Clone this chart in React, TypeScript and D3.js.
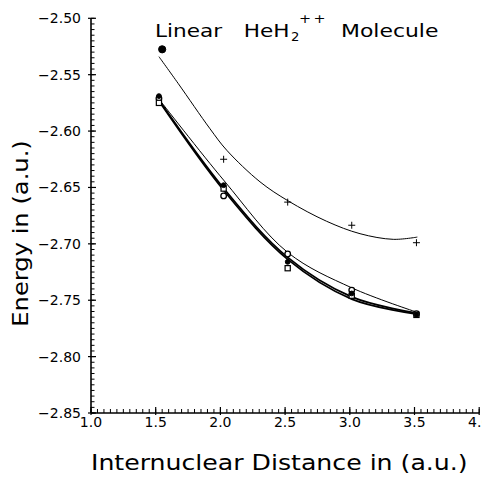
import * as d3 from "d3";

const W = 482;
const H = 477;

// upper curve, "+" markers and the big dot at the start
const plusX = [2.025, 2.52, 3.015, 3.515];
const plusY = [-2.625, -2.663, -2.6835, -2.699];
const topDotX = [1.55];
const topDotY = [-2.5275];
const topFitX = [1.525, 1.675, 1.92, 2.049, 2.306, 2.525, 2.821, 3.079, 3.336, 3.522];
const topFitY = [-2.534, -2.558, -2.598, -2.617, -2.645, -2.662, -2.68, -2.691, -2.696, -2.694];

// lower bundle of three curves
const lowFitX = [1.525, 2.03, 2.52, 3.015, 3.518];
const lowThinY = [-2.5716, -2.6442, -2.7076, -2.739, -2.7606];
const lowThickAY = [-2.5725, -2.6514, -2.712, -2.747, -2.7615];
const lowThickBY = [-2.5734, -2.6532, -2.7138, -2.749, -2.7624];

// lower markers
const markX = [1.525, 2.025, 2.52, 3.015, 3.515];
const circleY = [-2.571, -2.6575, -2.709, -2.741, -2.762];
const squareY = [-2.575, -2.651, -2.7216, -2.746, -2.763];
const dotY = [-2.569, -2.648, -2.716, -2.744, -2.763];

const xTicks = [1.0, 1.5, 2.0, 2.5, 3.0, 3.5, 4.0];
const xTickLabels = ["1.0", "1.5", "2.0", "2.5", "3.0", "3.5", "4.0"];
const yTicks = [-2.5, -2.55, -2.6, -2.65, -2.7, -2.75, -2.8, -2.85];
const yTickLabels = ["\u22122.50", "\u22122.55", "\u22122.60", "\u22122.65", "\u22122.70", "\u22122.75", "\u22122.80", "\u22122.85"];

const FONT = "DejaVu Sans";

export default function App() {
  const x = d3.scaleLinear().domain([1, 4]).range([91, 479.2]);
  const y = d3.scaleLinear().domain([-2.85, -2.5]).range([413, 18.3]);

  const line = d3
    .line<[number, number]>()
    .x((d) => x(d[0]))
    .y((d) => y(d[1]))
    .curve(d3.curveCatmullRom.alpha(0.5));

  const zip = (xs: number[], ys: number[]) => xs.map((v, i) => [v, ys[i]] as [number, number]);

  // minor ticks
  const xMinor = d3.range(1, 4.001, 0.05);
  const yMinor = d3.range(-2.85, -2.4999, 0.005);

  const [x0, x1] = x.range();
  const [yb, yt] = y.range();

  // wide, thin lettering like the plotter font
  const wide = (tx: number, ty: number, s: number) => `translate(${tx},${ty}) scale(${s},1)`;

  return (
    <svg
      width={W}
      height={H}
      style={{ position: "absolute", left: 0, top: 0, background: "#fff" }}
      fontFamily={FONT}
    >
      {/* title */}
      <g fill="#000">
        <text transform={wide(155, 36.7, 1.27)} fontSize={17}>Linear</text>
        <text transform={wide(243.7, 36.7, 1.27)} fontSize={17}>HeH</text>
        <text transform={wide(291, 40.7, 1.1)} fontSize={12}>2</text>
        <text transform={wide(299, 23, 1.2)} fontSize={12} letterSpacing={2}>++</text>
        <text transform={wide(341, 36.7, 1.29)} fontSize={17}>Molecule</text>
      </g>

      {/* axes */}
      <g stroke="#000" fill="none">
        <line x1={x0} y1={yt} x2={x0} y2={yb} strokeWidth={1.6} />
        <line x1={x0} y1={yb} x2={x1} y2={yb} strokeWidth={1.6} />
        {xMinor.map((v, i) => (
          <line key={"xm" + i} x1={x(v)} x2={x(v)} y1={yb} y2={yb - 4} strokeWidth={1} />
        ))}
        {xTicks.map((v, i) => (
          <line key={"xM" + i} x1={x(v)} x2={x(v)} y1={yb + 2} y2={yb - 6} strokeWidth={1.2} />
        ))}
        {yMinor.map((v, i) => (
          <line key={"ym" + i} x1={x0} x2={x0 + 3.5} y1={y(v)} y2={y(v)} strokeWidth={1} />
        ))}
        {yTicks.map((v, i) => (
          <line key={"yM" + i} x1={x0 - 3} x2={x0 + 5} y1={y(v)} y2={y(v)} strokeWidth={1.2} />
        ))}
      </g>

      {/* tick labels */}
      <g fill="#000" fontSize={14}>
        {yTicks.map((v, i) => (
          <text key={"yl" + i} x={81} y={y(v)} dy="0.36em" textAnchor="end">
            {yTickLabels[i]}
          </text>
        ))}
        {xTicks.map((v, i) => (
          <text key={"xl" + i} x={x(v)} y={426.7} textAnchor="middle">
            {xTickLabels[i]}
          </text>
        ))}
      </g>

      {/* axis titles */}
      <g fill="#000" fontSize={22}>
        <text transform={wide(91, 470, 1.145)}>Internuclear Distance in (a.u.)</text>
        <text transform="translate(28.3,326.7) rotate(-90) scale(1.1,1)">Energy in (a.u.)</text>
      </g>

      {/* curves */}
      <g fill="none" stroke="#000">
        <path d={line(zip(topFitX, topFitY)) || ""} strokeWidth={1} />
        <path d={line(zip(lowFitX, lowThinY)) || ""} strokeWidth={1} />
        <path d={line(zip(lowFitX, lowThickAY)) || ""} strokeWidth={1.7} />
        <path d={line(zip(lowFitX, lowThickBY)) || ""} strokeWidth={1.7} />
      </g>

      {/* markers */}
      <g stroke="#000" strokeWidth={1}>
        {plusX.map((v, i) => (
          <path
            key={"p" + i}
            d={`M${x(v) - 3.5},${y(plusY[i])}h7M${x(v)},${y(plusY[i]) - 3.5}v7`}
            fill="none"
          />
        ))}
        {topDotX.map((v, i) => (
          <circle key={"td" + i} cx={x(v)} cy={y(topDotY[i])} r={3.6} fill="#000" />
        ))}
        {markX.map((v, i) => (
          <circle key={"c" + i} cx={x(v)} cy={y(circleY[i])} r={2.8} fill="#fff" strokeWidth={1.3} />
        ))}
        {markX.map((v, i) => (
          <rect
            key={"s" + i}
            x={x(v) - 2.6}
            y={y(squareY[i]) - 2.6}
            width={5.2}
            height={5.2}
            fill="#fff"
            strokeWidth={1.2}
          />
        ))}
        {markX.map((v, i) => (
          <circle key={"d" + i} cx={x(v)} cy={y(dotY[i])} r={2.4} fill="#000" />
        ))}
      </g>
    </svg>
  );
}
